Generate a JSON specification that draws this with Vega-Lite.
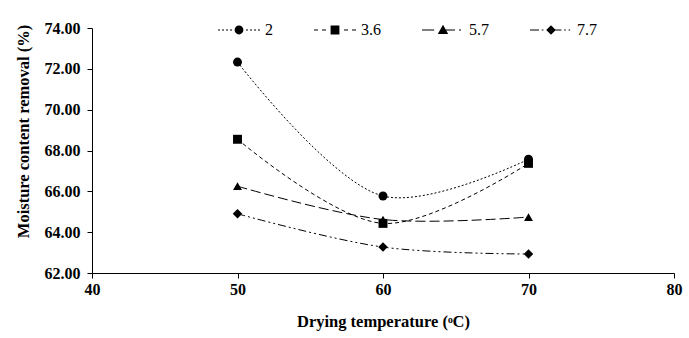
{
  "$schema": "https://vega.github.io/schema/vega-lite/v6.json",
  "autosize": "none",
  "width": 582,
  "height": 245,
  "padding": {"left": 92, "top": 28, "right": 15, "bottom": 65},
  "background": "white",
  "data": {
    "values": [
      {"t": 50, "series": "2", "v": 72.33},
      {"t": 60, "series": "2", "v": 65.77},
      {"t": 70, "series": "2", "v": 67.57},
      {"t": 50, "series": "3.6", "v": 68.55},
      {"t": 60, "series": "3.6", "v": 64.43},
      {"t": 70, "series": "3.6", "v": 67.37},
      {"t": 50, "series": "5.7", "v": 66.25},
      {"t": 60, "series": "5.7", "v": 64.62},
      {"t": 70, "series": "5.7", "v": 64.74},
      {"t": 50, "series": "7.7", "v": 64.9},
      {"t": 60, "series": "7.7", "v": 63.27},
      {"t": 70, "series": "7.7", "v": 62.93}
    ]
  },
  "config": {
    "view": {"stroke": null},
    "axis": {
      "grid": false,
      "domainColor": "black",
      "tickColor": "black",
      "tickSize": 5,
      "labelFlush": false,
      "labelFont": "Liberation Serif",
      "labelFontWeight": "bold",
      "labelFontSize": 16,
      "labelColor": "black",
      "titleFont": "Liberation Serif",
      "titleFontWeight": "bold",
      "titleFontSize": 16.5,
      "titleColor": "black"
    },
    "legend": {
      "title": null,
      "orient": "none",
      "legendX": 139,
      "legendY": -6,
      "direction": "horizontal",
      "columns": 4,
      "columnPadding": 39,
      "symbolSize": 64,
      "symbolStrokeWidth": 1,
      "symbolOpacity": 1,
      "symbolFillColor": "black",
      "symbolStrokeColor": "black",
      "labelFont": "Liberation Serif",
      "labelFontSize": 16,
      "labelColor": "black",
      "labelOffset": 18
    }
  },
  "encoding": {
    "x": {
      "field": "t",
      "type": "quantitative",
      "scale": {"domain": [40, 80], "nice": false},
      "axis": {
        "values": [40, 50, 60, 70, 80],
        "title": "Drying temperature (ᵒC)",
        "labelPadding": 3,
        "titlePadding": 16
      }
    },
    "y": {
      "field": "v",
      "type": "quantitative",
      "scale": {"domain": [62, 74], "nice": false, "zero": false},
      "axis": {
        "values": [62, 64, 66, 68, 70, 72, 74],
        "format": ".2f",
        "labelPadding": 7,
        "title": "Moisture content removal (%)",
        "titleX": -61,
        "titleY": 103
      }
    }
  },
  "layer": [
    {
      "mark": {"type": "line", "interpolate": "catmull-rom", "color": "black", "strokeWidth": 1},
      "encoding": {
        "detail": {"field": "series"},
        "strokeDash": {
          "field": "series",
          "type": "nominal",
          "scale": {
            "domain": ["2", "3.6", "5.7", "7.7"],
            "range": [[2, 2], [4, 3], [10, 4], [8, 3, 2, 3, 2, 3]]
          }
        }
      }
    },
    {
      "mark": {"type": "point", "filled": true, "color": "black", "opacity": 0, "size": 64},
      "encoding": {
        "shape": {
          "field": "series",
          "type": "nominal",
          "scale": {
            "domain": ["2", "3.6", "5.7", "7.7"],
            "range": [
              "M-5.25,-0.13L-4.75,-0.13L-4.75,0.13L-5.25,0.13ZM-4.25,-0.13L-3.75,-0.13L-3.75,0.13L-4.25,0.13ZM-3.25,-0.13L-2.75,-0.13L-2.75,0.13L-3.25,0.13ZM-2.25,-0.13L-1.75,-0.13L-1.75,0.13L-2.25,0.13ZM1.75,-0.13L2.25,-0.13L2.25,0.13L1.75,0.13ZM2.75,-0.13L3.25,-0.13L3.25,0.13L2.75,0.13ZM3.75,-0.13L4.25,-0.13L4.25,0.13L3.75,0.13ZM4.75,-0.13L5.25,-0.13L5.25,0.13L4.75,0.13ZM1.1,0A1.1,1.1,0,1,1,-1.1,0A1.1,1.1,0,1,1,1.1,0Z",
              "M-5.25,-0.13L-4.25,-0.13L-4.25,0.13L-5.25,0.13ZM-3.25,-0.13L-2.25,-0.13L-2.25,0.13L-3.25,0.13ZM2.25,-0.13L3.25,-0.13L3.25,0.13L2.25,0.13ZM4.25,-0.13L5.25,-0.13L5.25,0.13L4.25,0.13ZM-1.1,-1.1L1.1,-1.1L1.1,1.1L-1.1,1.1Z",
              "M-5.25,-0.13L-2.2,-0.13L-2.2,0.13L-5.25,0.13ZM0.5,-0.13L3.0,-0.13L3.0,0.13L0.5,0.13ZM4.0,-0.13L4.5,-0.13L4.5,0.13L4.0,0.13ZM0,-1.3L1.3,1.0L-1.3,1.0Z",
              "M-5.25,-0.13L-3.0,-0.13L-3.0,0.13L-5.25,0.13ZM-2.3,-0.13L-1.9,-0.13L-1.9,0.13L-2.3,0.13ZM0.5,-0.13L2.6,-0.13L2.6,0.13L0.5,0.13ZM3.3,-0.13L3.7,-0.13L3.7,0.13L3.3,0.13ZM4.4,-0.13L4.8,-0.13L4.8,0.13L4.4,0.13ZM0,-1.2L1.2,0L0,1.2L-1.2,0Z"
            ]
          }
        },
        "strokeDash": {"field": "series", "type": "nominal"}
      }
    },
    {
      "transform": [{"filter": "datum.series === '2'"}],
      "mark": {"type": "point", "shape": "circle", "filled": true, "color": "black", "size": 80, "opacity": 1}
    },
    {
      "transform": [{"filter": "datum.series === '3.6'"}],
      "mark": {"type": "point", "shape": "square", "filled": true, "color": "black", "size": 80, "opacity": 1}
    },
    {
      "transform": [{"filter": "datum.series === '5.7'"}],
      "mark": {"type": "point", "shape": "triangle-up", "filled": true, "color": "black", "size": 80, "opacity": 1}
    },
    {
      "transform": [{"filter": "datum.series === '7.7'"}],
      "mark": {"type": "point", "shape": "diamond", "filled": true, "color": "black", "size": 90, "opacity": 1}
    }
  ]
}
